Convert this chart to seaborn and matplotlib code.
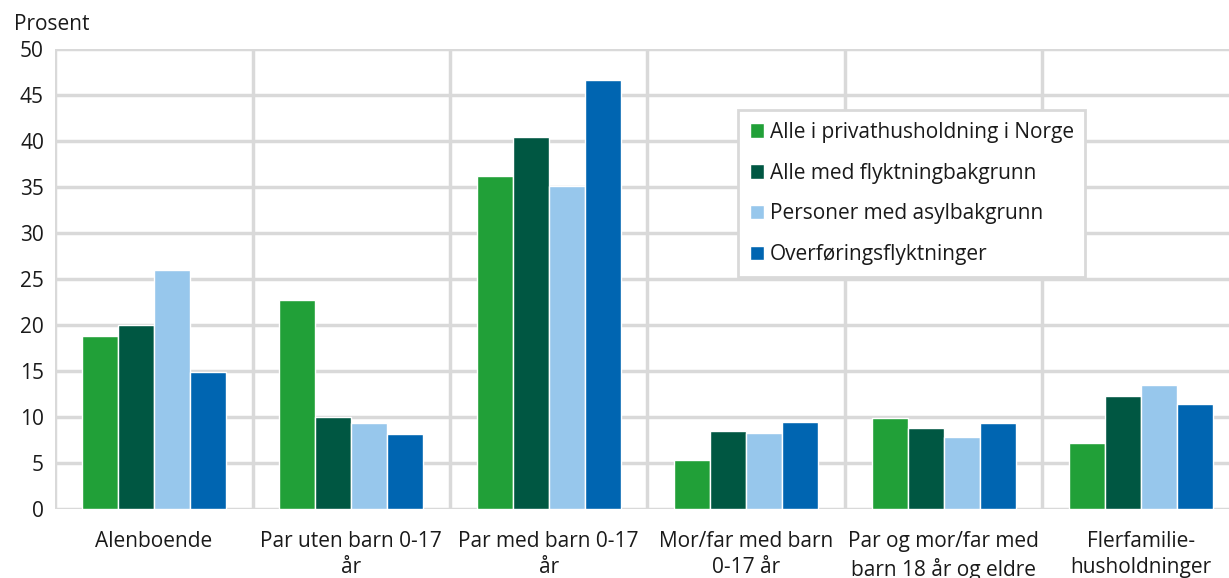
import matplotlib.pyplot as plt
import pandas as pd
import seaborn as sns

categories = ["Alenboende", "Par uten barn 0-17\når", "Par med barn 0-17\når",
              "Mor/far med barn\n0-17 år", "Par og mor/far med\nbarn 18 år og eldre",
              "Flerfamilie-\nhusholdninger"]
series = ["Alle i privathusholdning i Norge", "Alle med flyktningbakgrunn",
          "Personer med asylbakgrunn", "Overføringsflyktninger"]
alle_norge = [18.8, 22.7, 36.2, 5.3, 9.9, 7.2]
alle_flyktning = [20.0, 10.0, 40.4, 8.5, 8.8, 12.3]
asyl = [26.0, 9.35, 35.1, 8.3, 7.9, 13.5]
overforing = [14.9, 8.15, 46.6, 9.5, 9.35, 11.4]
colors = ["#21a038", "#005742", "#97c7ec", "#0065b1"]

rows = []
for s, vals in zip(series, [alle_norge, alle_flyktning, asyl, overforing]):
    for c, v in zip(categories, vals):
        rows.append({"kategori": c, "serie": s, "verdi": v})
df = pd.DataFrame(rows)

sns.set_style("white")
plt.rcParams["font.family"] = ["Open Sans", "DejaVu Sans"]

fig = plt.figure(figsize=(12.29, 5.78), dpi=100)
ax = fig.add_axes([0.0448, 0.119, 1 - 0.0448, 0.796])

sns.barplot(data=df, x="kategori", y="verdi", hue="serie", palette=colors,
            width=0.73, saturation=1, ax=ax, zorder=3)

grid = "#d9d9d9"
ax.set_ylim(0, 50)
ax.set_xlim(-0.5, 5.445)
ax.set_yticks(range(0, 51, 5))
for y in range(0, 51, 5):
    ax.axhline(y, color=grid, lw=2.5, zorder=1)
for x in [-0.5, 0.5, 1.5, 2.5, 3.5, 4.5]:
    ax.axvline(x, color=grid, lw=2.5, zorder=1)
for sp in ax.spines.values():
    sp.set_visible(False)

ax.set_xlabel("")
ax.set_ylabel("")
ax.tick_params(axis="both", length=0, labelsize=15, colors="#1a1a1a")
ax.tick_params(axis="y", pad=8)
ax.tick_params(axis="x", pad=16)
for lbl in ax.get_xticklabels():
    lbl.set_linespacing(1.3)
fig.text(0.011, 0.958, "Prosent", fontsize=15, color="#1a1a1a", va="center")

leg = ax.legend(loc="upper left", bbox_to_anchor=(0.582, 0.867), fontsize=15,
                handlelength=0.7, handleheight=0.7, handletextpad=0.25,
                labelspacing=0.95, frameon=True, fancybox=False,
                borderpad=0.55, borderaxespad=0, framealpha=1)
leg.get_frame().set_edgecolor(grid)
leg.get_frame().set_linewidth(2)
for t in leg.get_texts():
    t.set_color("#1a1a1a")

fig.savefig("out.png", dpi=100)
